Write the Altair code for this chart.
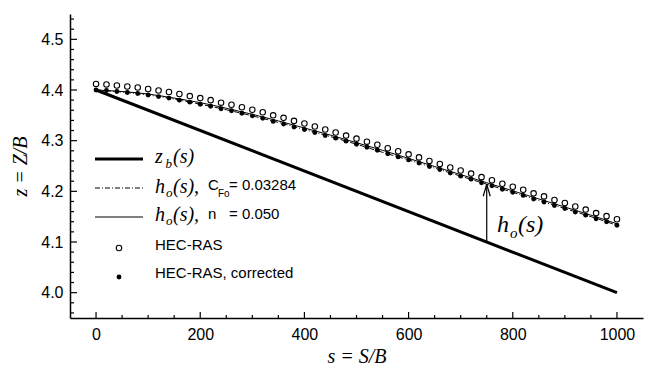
import altair as alt
import pandas as pd

# ---------------- data ----------------
s_pts = [0, 20, 40, 60, 80, 100, 120, 140, 160, 180, 200, 220, 240, 260, 280,
         300, 320, 340, 360, 380, 400, 420, 440, 460, 480, 500, 520, 540, 560,
         580, 600, 620, 640, 660, 680, 700, 720, 740, 760, 780, 800, 820, 840,
         860, 880, 900, 920, 940, 960, 980, 1000]
hec_corrected = [4.400, 4.399, 4.397, 4.395, 4.393, 4.390, 4.387, 4.384, 4.380,
                 4.376, 4.372, 4.368, 4.363, 4.359, 4.354, 4.349, 4.344, 4.338,
                 4.333, 4.327, 4.322, 4.316, 4.310, 4.305, 4.299, 4.293, 4.287,
                 4.281, 4.274, 4.268, 4.262, 4.256, 4.249, 4.243, 4.236, 4.230,
                 4.224, 4.217, 4.211, 4.204, 4.198, 4.192, 4.185, 4.179, 4.172,
                 4.166, 4.159, 4.153, 4.146, 4.140, 4.133]
hec_ras = [4.412, 4.411, 4.409, 4.407, 4.405, 4.402, 4.399, 4.396, 4.392, 4.388,
           4.384, 4.380, 4.375, 4.371, 4.366, 4.361, 4.356, 4.350, 4.345, 4.339,
           4.334, 4.328, 4.322, 4.316, 4.310, 4.304, 4.298, 4.292, 4.285, 4.279,
           4.273, 4.267, 4.260, 4.254, 4.247, 4.241, 4.235, 4.228, 4.222, 4.215,
           4.209, 4.203, 4.196, 4.190, 4.183, 4.177, 4.170, 4.164, 4.157, 4.151,
           4.145]

s_line = [0, 50, 100, 150, 200, 250, 300, 350, 400, 450, 500, 550, 600, 650,
          700, 750, 800, 850, 900, 950, 1000]
h_cfo = [4.400, 4.396, 4.390, 4.382, 4.372, 4.361, 4.349, 4.336, 4.322, 4.308,
         4.293, 4.277, 4.262, 4.246, 4.230, 4.214, 4.198, 4.182, 4.166, 4.150,
         4.133]
h_n = [4.400, 4.397, 4.392, 4.384, 4.375, 4.364, 4.352, 4.339, 4.325, 4.311,
       4.296, 4.281, 4.265, 4.249, 4.233, 4.217, 4.201, 4.185, 4.169, 4.153,
       4.136]

s_bed = [0, 1000]
z_bed = [4.40, 4.00]

arrow_s = [750]
arrow_base = [4.100]
arrow_tip = [4.214]

x_major = [0, 200, 400, 600, 800, 1000]
x_minor = [50, 100, 150, 250, 300, 350, 450, 500, 550, 650, 700, 750, 850,
           900, 950]
y_major = [4.0, 4.1, 4.2, 4.3, 4.4, 4.5]
y_minor = [3.96, 3.98, 4.02, 4.04, 4.06, 4.08, 4.12, 4.14, 4.16, 4.18, 4.22,
           4.24, 4.26, 4.28, 4.32, 4.34, 4.36, 4.38, 4.42, 4.44, 4.46, 4.48,
           4.52, 4.54]

# ---------------- layout ----------------
W, H = 573, 304
SERIF = "Liberation Serif"
SANS = "Liberation Sans"

xs = alt.Scale(domain=[-50, 1050], nice=False, zero=False)
ys = alt.Scale(domain=[3.95, 4.55], nice=False, zero=False)
x_axis = alt.Axis(values=x_major, format="d", title="s = S/B", ticks=False,
                  grid=False, labelPadding=8, titlePadding=4)
y_axis = alt.Axis(values=y_major, format=".1f", title="z = Z/B", ticks=False,
                  grid=False, labelPadding=7, titlePadding=10)

pts = pd.DataFrame({"s": s_pts, "hc": hec_corrected, "hr": hec_ras})
lines = pd.DataFrame({"s": s_line, "cfo": h_cfo, "n": h_n})
bed = pd.DataFrame({"s": s_bed, "z": z_bed})
arrow = pd.DataFrame({"s": arrow_s, "b": arrow_base, "t": arrow_tip})
one = pd.DataFrame({"k": [0]})

OPEN_SIZE, FILL_SIZE = 30, 24


def X(f):
    return alt.X(f, type="quantitative", scale=xs, axis=x_axis)


def Y(f):
    return alt.Y(f, type="quantitative", scale=ys, axis=y_axis)


bed_layer = alt.Chart(bed).mark_line(color="black", strokeWidth=3).encode(
    x=X("s"), y=Y("z"))

cfo_layer = alt.Chart(lines).mark_line(
    color="black", strokeWidth=1, strokeDash=[5, 2, 1, 2],
    interpolate="monotone").encode(x=X("s"), y=Y("cfo"))
n_layer = alt.Chart(lines).mark_line(
    color="black", strokeWidth=1, interpolate="monotone").encode(
    x=X("s"), y=Y("n"))

open_layer = alt.Chart(pts).mark_point(
    shape="circle", filled=False, color="black", size=OPEN_SIZE,
    strokeWidth=1.1, opacity=1).encode(x=X("s"), y=Y("hr"))
fill_layer = alt.Chart(pts).mark_point(
    shape="circle", filled=True, color="black", size=FILL_SIZE,
    opacity=1).encode(x=X("s"), y=Y("hc"))

# arrow h_o(s)
shaft = alt.Chart(arrow).mark_rule(color="black", strokeWidth=1.2).encode(
    x=X("s"), y=Y("b"), y2="t:Q")
head_l = alt.Chart(arrow).mark_rule(color="black", strokeWidth=1.2,
                                    x2Offset=-3.5, y2Offset=12).encode(
    x=X("s"), y=Y("t"), x2="s:Q", y2="t:Q")
head_r = alt.Chart(arrow).mark_rule(color="black", strokeWidth=1.2,
                                    x2Offset=3.5, y2Offset=12).encode(
    x=X("s"), y=Y("t"), x2="s:Q", y2="t:Q")

# inward ticks
xmaj = alt.Chart(pd.DataFrame({"v": x_major})).mark_rule(
    color="black", strokeWidth=1.2).encode(
    x=X("v"), y=alt.value(H), y2=alt.value(H - 6))
xmin = alt.Chart(pd.DataFrame({"v": x_minor})).mark_rule(
    color="black", strokeWidth=1.2).encode(
    x=X("v"), y=alt.value(H), y2=alt.value(H - 3))
ymaj = alt.Chart(pd.DataFrame({"v": y_major})).mark_rule(
    color="black", strokeWidth=1.2).encode(
    y=Y("v"), x=alt.value(0), x2=alt.value(7))
ymin = alt.Chart(pd.DataFrame({"v": y_minor})).mark_rule(
    color="black", strokeWidth=1.2).encode(
    y=Y("v"), x=alt.value(0), x2=alt.value(4))


def txt(t, x, y, size, font=SANS, style="normal"):
    return alt.Chart(one).mark_text(
        text=t, align="left", baseline="alphabetic", font=font,
        fontSize=size, fontStyle=style, color="black").encode(
        x=alt.value(x), y=alt.value(y))


def hline(x1, x2, y, width, dash=None):
    kw = dict(color="black", strokeWidth=width)
    if dash:
        kw["strokeDash"] = dash
    return alt.Chart(one).mark_rule(**kw).encode(
        x=alt.value(x1), x2=alt.value(x2), y=alt.value(y))


def marker(x, y, filled, size):
    return alt.Chart(one).mark_point(
        shape="circle", filled=filled, color="black", size=size,
        strokeWidth=1.1, opacity=1).encode(x=alt.value(x), y=alt.value(y))


legend = [
    hline(25, 73, 145, 3),
    txt("z", 85, 149, 20, SERIF, "italic"),
    txt("b", 95.5, 154, 13, SERIF, "italic"),
    txt("(s)", 103, 149, 20, SERIF, "italic"),

    hline(25, 73, 174, 1, [5, 2, 1, 2]),
    txt("h", 85, 179, 20, SERIF, "italic"),
    txt("o", 96, 183, 13, SERIF, "italic"),
    txt("(s),", 103, 179, 20, SERIF, "italic"),
    txt("C", 138, 176, 15),
    txt("Fo", 148, 183, 10),
    txt("= 0.03284", 159, 176, 15),

    hline(25, 73, 203, 1),
    txt("h", 85, 207, 20, SERIF, "italic"),
    txt("o", 96, 211, 13, SERIF, "italic"),
    txt("(s),", 103, 207, 20, SERIF, "italic"),
    txt("n", 138, 205, 15),
    txt("= 0.050", 159, 205, 15),

    marker(49, 234, False, OPEN_SIZE),
    txt("HEC-RAS", 85, 236, 15),
    marker(49, 263, True, FILL_SIZE),
    txt("HEC-RAS, corrected", 85, 264, 15),
]

annot = [
    txt("h", 427, 218, 24, SERIF, "italic"),
    txt("o", 440, 224, 15, SERIF, "italic"),
    txt("(s)", 448, 218, 24, SERIF, "italic"),
]

chart = alt.layer(
    bed_layer, n_layer, cfo_layer, open_layer, fill_layer,
    shaft, head_l, head_r, xmaj, xmin, ymaj, ymin, *legend, *annot
).properties(
    width=W, height=H,
    autosize=alt.AutoSizeParams(type="none"),
    padding={"left": 70, "top": 14, "right": 2, "bottom": 49},
    background="white",
).configure_view(stroke=None).configure_axis(
    domainColor="black", domainWidth=1.5,
    labelFont=SANS, labelFontSize=16, labelColor="black",
    titleFont=SERIF, titleFontSize=20, titleFontStyle="italic",
    titleFontWeight="normal", titleColor="black",
)

chart.save("out.html", embed_options={"renderer": "svg", "actions": False})
